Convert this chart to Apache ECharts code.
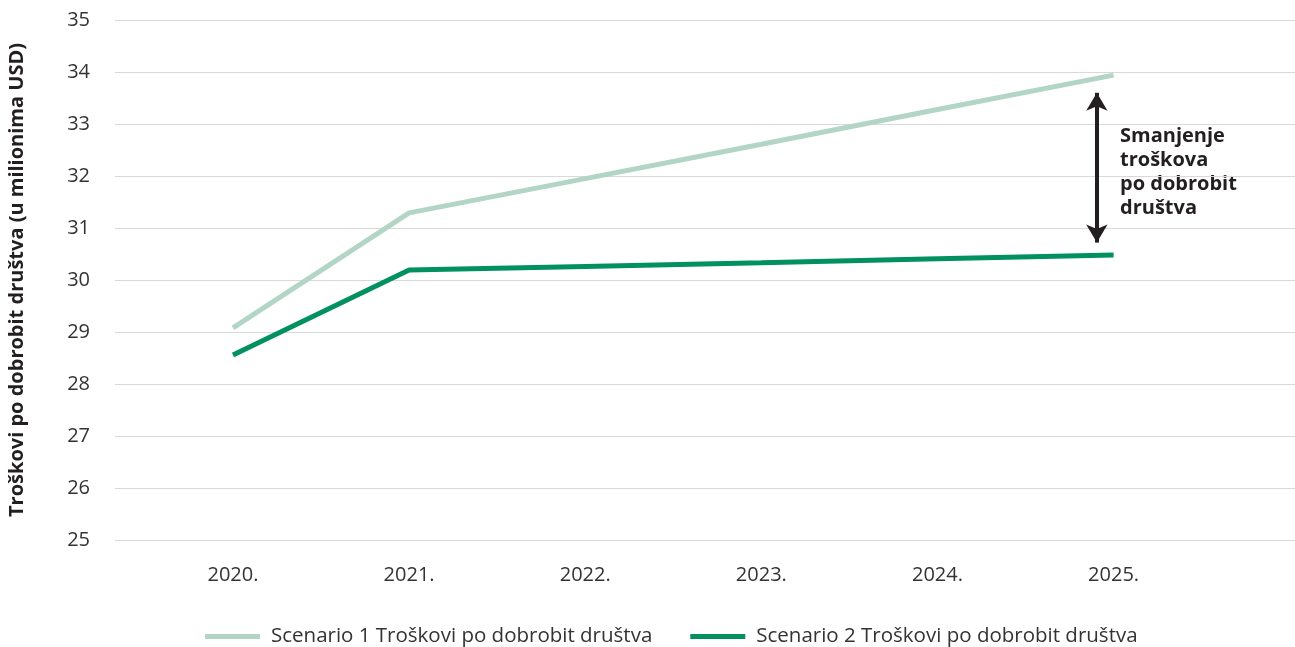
<!DOCTYPE html>
<html>
<head>
<meta charset="utf-8">
<script src="https://cdn.jsdelivr.net/npm/echarts@6/dist/echarts.min.js"></script>
<style>
  html, body { margin: 0; padding: 0; background: #fff; }
  #chart { width: 1295px; height: 647px; }
</style>
</head>
<body>
<div id="chart"></div>
<script>
// chart data
var years = [2020, 2021, 2022, 2023, 2024, 2025];
var scenario1 = [29.08, 31.29, 31.95, 32.61, 33.28, 33.94];
var scenario2 = [28.56, 30.19, 30.26, 30.33, 30.41, 30.48];
var yTicks = [25, 26, 27, 28, 29, 30, 31, 32, 33, 34, 35];

var seriesNames = ["Scenario 1 Troškovi po dobrobit društva", "Scenario 2 Troškovi po dobrobit društva"];
var colors = ["#b2d5c5", "#00915f"];

function pairs(vals) {
    var out = [];
    for (var i = 0; i < years.length; i++) {
        out.push([years[i], vals[i]]);
    }
    return out;
}

var chart = echarts.init(document.getElementById("chart"));
var font = "'Open Sans', 'Noto Sans', sans-serif";

var option = {
    backgroundColor: "#fff",
    animation: false,
    textStyle: { fontFamily: font },
    grid: { left: 115, right: 0, top: 20, bottom: 107, outerBoundsMode: "none", containLabel: false },
    legend: {
        bottom: -5,
        left: 200,
        itemWidth: 55,
        itemHeight: 5,
        itemGap: 38,
        icon: "rect",
        textStyle: { fontSize: 20.5, color: "#333", fontFamily: font, padding: [0, 0, 0, 6] },
        data: seriesNames
    },
    xAxis: {
        type: "value",
        min: 2019.33,
        max: 2026.03,
        axisLine: { show: false },
        axisTick: { show: false },
        splitLine: { show: false },
        axisLabel: {
            customValues: years,
            margin: 25,
            fontSize: 20,
            color: "#333",
            formatter: function (v) { return v + "."; }
        }
    },
    yAxis: {
        type: "value",
        min: yTicks[0],
        max: yTicks[yTicks.length - 1],
        interval: 1,
        name: "Troškovi po dobrobit društva (u milionima USD)",
        nameLocation: "middle",
        nameGap: 88,
        nameTextStyle: { fontSize: 20, fontWeight: "bold", color: "#231f20", fontFamily: font },
        axisLine: { show: false },
        axisTick: { show: false },
        splitLine: { lineStyle: { color: "#d9d9d9", width: 1 } },
        axisLabel: { margin: 25, fontSize: 20, color: "#333" }
    },
    series: [
        {
            name: seriesNames[0],
            type: "line",
            data: pairs(scenario1),
            showSymbol: false,
            symbol: "none",
            color: colors[0],
            lineStyle: { width: 5, color: colors[0] }
        },
        {
            name: seriesNames[1],
            type: "line",
            data: pairs(scenario2),
            showSymbol: false,
            symbol: "none",
            color: colors[1],
            lineStyle: { width: 5, color: colors[1] },
            // difference arrow between the two scenarios
            markLine: {
                silent: true,
                symbol: ["arrow", "arrow"],
                symbolSize: [16, 18],
                label: { show: false },
                lineStyle: { color: "#231f20", width: 4, type: "solid" },
                data: [[
                    { coord: [2024.905, 33.6] },
                    { coord: [2024.905, 30.72] }
                ]]
            }
        }
    ],
    graphic: [{
        type: "text",
        left: 1120,
        top: 124,
        style: {
            text: "Smanjenje\ntroškova\npo dobrobit\ndruštva",
            font: "bold 20px " + font,
            fill: "#231f20",
            lineHeight: 24
        }
    }]
};

chart.setOption(option);
</script>
</body>
</html>
